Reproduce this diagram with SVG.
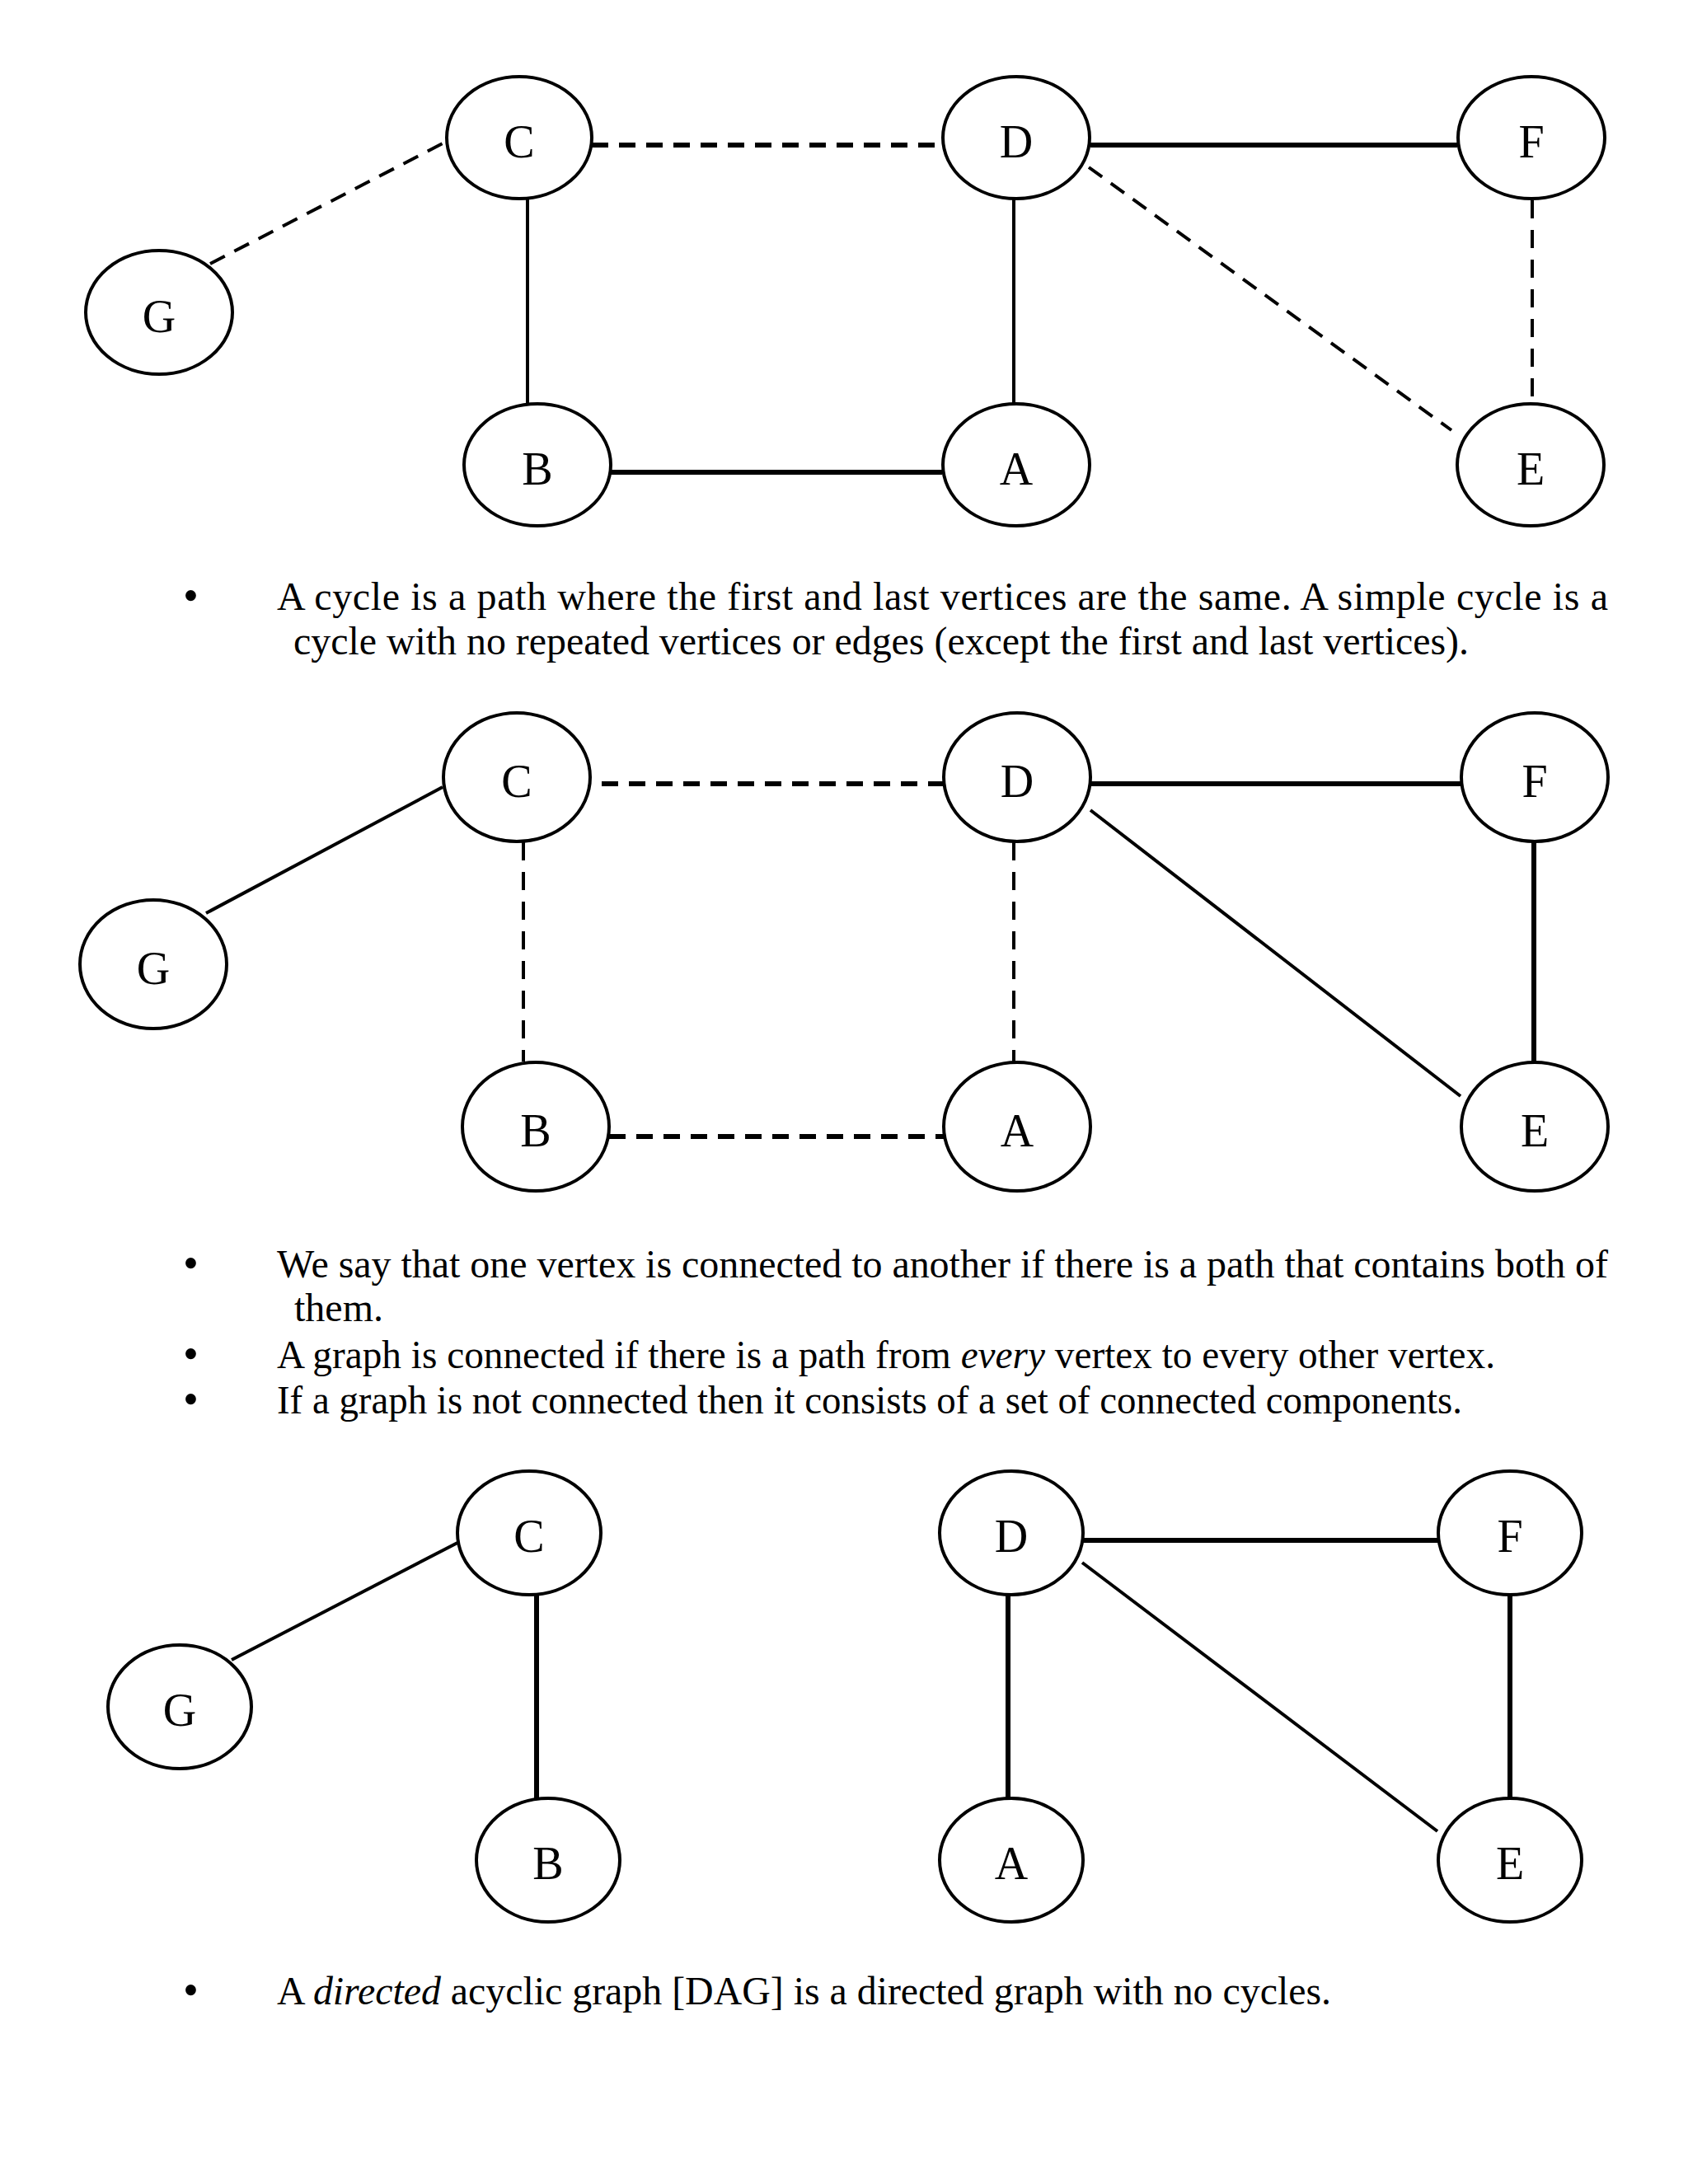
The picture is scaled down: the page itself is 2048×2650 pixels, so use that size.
<svg xmlns="http://www.w3.org/2000/svg" width="2048" height="2650" viewBox="0 0 2048 2650">
<style>
.n{fill:#fff;stroke:#000;stroke-width:4}
.l{font-family:"Liberation Serif","Times New Roman",serif;font-size:56px;text-anchor:middle;fill:#000}
.t{font-family:"Liberation Serif","Times New Roman",serif;font-size:48px;fill:#000}
.b{font-family:"Liberation Serif","Times New Roman",serif;font-size:54px;fill:#000}
.e{stroke:#000;fill:none;stroke-width:4}
.k{stroke-width:6}
.d{stroke-dasharray:20 13}
.v{stroke-dasharray:22 14}
</style>
<rect width="2048" height="2650" fill="#fff"/>
<g id="connectors">
<line class="e d" x1="255" y1="320" x2="541" y2="172"/>
<line class="e k d" x1="718" y1="176" x2="1143" y2="176"/>
<line class="e" x1="640" y1="242" x2="640" y2="490"/>
<line class="e k" x1="741" y1="573" x2="1143" y2="573"/>
<line class="e" x1="1230" y1="242" x2="1230" y2="490"/>
<line class="e k" x1="1323" y1="176" x2="1768" y2="176"/>
<line class="e d" x1="1321" y1="203" x2="1761" y2="522"/>
<line class="e v" stroke-width="3" x1="1859" y1="243" x2="1859" y2="490"/>
<line class="e" x1="250" y1="1108" x2="537" y2="955"/>
<line class="e k d" x1="730" y1="951" x2="1145" y2="951"/>
<line class="e v" x1="635" y1="1022" x2="635" y2="1288"/>
<line class="e k d" x1="739" y1="1379" x2="1145" y2="1379"/>
<line class="e v" x1="1230" y1="1022" x2="1230" y2="1288"/>
<line class="e k" x1="1323" y1="951" x2="1772" y2="951"/>
<line class="e" x1="1323" y1="983" x2="1772" y2="1330"/>
<line class="e k" x1="1861" y1="1022" x2="1861" y2="1288"/>
<line class="e" x1="281" y1="2014" x2="555" y2="1872"/>
<line class="e k" x1="651" y1="1935" x2="651" y2="2183"/>
<line class="e k" x1="1313" y1="1869" x2="1746" y2="1869"/>
<line class="e k" x1="1223" y1="1935" x2="1223" y2="2183"/>
<line class="e" x1="1313" y1="1896" x2="1744" y2="2222"/>
<line class="e k" x1="1832" y1="1935" x2="1832" y2="2183"/>
</g>
<g id="g1-C"><ellipse class="n" cx="630" cy="167" rx="88" ry="74"/><text class="l" x="630" y="191">C</text></g>
<g id="g1-G"><ellipse class="n" cx="193" cy="379" rx="89" ry="75"/><text class="l" x="193" y="403">G</text></g>
<g id="g1-B"><ellipse class="n" cx="652" cy="564" rx="89" ry="74"/><text class="l" x="652" y="588">B</text></g>
<g id="g1-D"><ellipse class="n" cx="1233" cy="167" rx="89" ry="74"/><text class="l" x="1233" y="191">D</text></g>
<g id="g1-F"><ellipse class="n" cx="1858" cy="167" rx="89" ry="74"/><text class="l" x="1858" y="191">F</text></g>
<g id="g1-A"><ellipse class="n" cx="1233" cy="564" rx="89" ry="74"/><text class="l" x="1233" y="588">A</text></g>
<g id="g1-E"><ellipse class="n" cx="1857" cy="564" rx="89" ry="74"/><text class="l" x="1857" y="588">E</text></g>

<g id="text1">
<text class="b" x="222" y="741">•</text>
<text class="t" x="336" y="740" textLength="1615" lengthAdjust="spacing">A cycle is a path where the first and last vertices are the same. A simple cycle is a</text>
<text class="t" x="356" y="794" textLength="1426" lengthAdjust="spacingAndGlyphs">cycle with no repeated vertices or edges (except the first and last vertices).</text>
</g>

<g id="g2-C"><ellipse class="n" cx="627" cy="943" rx="89" ry="78"/><text class="l" x="627" y="967">C</text></g>
<g id="g2-G"><ellipse class="n" cx="186" cy="1170" rx="89" ry="78"/><text class="l" x="186" y="1194">G</text></g>
<g id="g2-B"><ellipse class="n" cx="650" cy="1367" rx="89" ry="78"/><text class="l" x="650" y="1391">B</text></g>
<g id="g2-D"><ellipse class="n" cx="1234" cy="943" rx="89" ry="78"/><text class="l" x="1234" y="967">D</text></g>
<g id="g2-F"><ellipse class="n" cx="1862" cy="943" rx="89" ry="78"/><text class="l" x="1862" y="967">F</text></g>
<g id="g2-A"><ellipse class="n" cx="1234" cy="1367" rx="89" ry="78"/><text class="l" x="1234" y="1391">A</text></g>
<g id="g2-E"><ellipse class="n" cx="1862" cy="1367" rx="89" ry="78"/><text class="l" x="1862" y="1391">E</text></g>

<g id="text2">
<text class="b" x="222" y="1551">•</text>
<text class="t" x="336" y="1550" textLength="1615" lengthAdjust="spacing">We say that one vertex is connected to another if there is a path that contains both of</text>
<text class="t" x="357" y="1603">them.</text>
<text class="b" x="222" y="1661">•</text>
<text class="t" x="336" y="1660" textLength="1478" lengthAdjust="spacingAndGlyphs">A graph is connected if there is a path from <tspan font-style="italic">every</tspan> vertex to every other vertex.</text>
<text class="b" x="222" y="1716">•</text>
<text class="t" x="336" y="1715" textLength="1438" lengthAdjust="spacingAndGlyphs">If a graph is not connected then it consists of a set of connected components.</text>
</g>

<g id="g3-C"><ellipse class="n" cx="642" cy="1860" rx="87" ry="75"/><text class="l" x="642" y="1883">C</text></g>
<g id="g3-G"><ellipse class="n" cx="218" cy="2071" rx="87" ry="75"/><text class="l" x="218" y="2094">G</text></g>
<g id="g3-B"><ellipse class="n" cx="665" cy="2257" rx="87" ry="75"/><text class="l" x="665" y="2280">B</text></g>
<g id="g3-D"><ellipse class="n" cx="1227" cy="1860" rx="87" ry="75"/><text class="l" x="1227" y="1883">D</text></g>
<g id="g3-F"><ellipse class="n" cx="1832" cy="1860" rx="87" ry="75"/><text class="l" x="1832" y="1883">F</text></g>
<g id="g3-A"><ellipse class="n" cx="1227" cy="2257" rx="87" ry="75"/><text class="l" x="1227" y="2280">A</text></g>
<g id="g3-E"><ellipse class="n" cx="1832" cy="2257" rx="87" ry="75"/><text class="l" x="1832" y="2280">E</text></g>

<g id="text3">
<text class="b" x="222" y="2433">•</text>
<text class="t" x="336" y="2432" textLength="1279" lengthAdjust="spacingAndGlyphs">A <tspan font-style="italic">directed</tspan> acyclic graph [DAG] is a directed graph with no cycles.</text>
</g>
</svg>
